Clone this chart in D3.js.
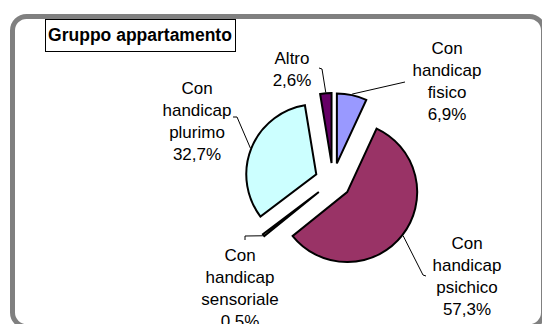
<!DOCTYPE html>
<html>
<head>
<meta charset="utf-8">
<script src="https://cdn.jsdelivr.net/npm/d3@7"></script>
<style>
  html, body { margin: 0; padding: 0; background: #fff; overflow: hidden; }
  svg { display: block; }
  text { font-family: "Liberation Sans", Arial, sans-serif; fill: #000; }
</style>
</head>
<body>
<svg id="chart" width="542" height="324"></svg>
<script>
// ---- data ----
const chartTitle = "Gruppo appartamento";
const categories = [
  "Con handicap fisico",
  "Con handicap psichico",
  "Con handicap sensoriale",
  "Con handicap plurimo",
  "Altro"
];
const shares = [6.9, 57.3, 0.5, 32.7, 2.6];
const sliceColors = ["#9999FF", "#993366", "#FFFFCC", "#CCFFFF", "#660066"];

// ---- layout ----
const W = 542, H = 324;
const cx = 333, cy = 181;       // pie centre
const radius = 70;
const explode = 18;             // distance each slice is pulled out
const fontSize = 17, titleSize = 17.5, lineGap = 22;

// label block: centre x, first baseline, and leader points on the label side
const labelLayout = [
  { x: 447, y: 54,  leader: [[405, 82]] },
  { x: 467, y: 249, leader: [[426, 276], [423, 275]] },
  { x: 240, y: 261, leader: [[245, 240], [245, 236]] },
  { x: 197, y: 94,  leader: [[233, 117], [237, 117]] },
  { x: 292, y: 64,  leader: [[319, 68], [322, 69]] }
];

const itLocale = d3.formatLocale({ decimal: ",", thousands: ".", grouping: [3], currency: ["", " €"] });
const fmtPct = v => itLocale.format(".1f")(v) + "%";

const svg = d3.select("#chart");

// outer rounded frame
svg.append("rect")
  .attr("x", 12.5).attr("y", 16.5)
  .attr("width", 531).attr("height", 310)
  .attr("rx", 14).attr("ry", 14)
  .attr("fill", "#fff")
  .attr("stroke", "#808080")
  .attr("stroke-width", 5);

// title box
svg.append("rect")
  .attr("x", 45.5).attr("y", 19.5)
  .attr("width", 190).attr("height", 32)
  .attr("fill", "#fff")
  .attr("stroke", "#000")
  .attr("stroke-width", 1);
svg.append("text")
  .attr("x", 140).attr("y", 41)
  .attr("text-anchor", "middle")
  .attr("font-size", titleSize)
  .attr("font-weight", "bold")
  .text(chartTitle);

// pie
const pie = d3.pie().sort(null).value(d => d.value);
const arc = d3.arc().innerRadius(0).outerRadius(radius);
const data = categories.map((c, i) => ({ name: c, value: shares[i], color: sliceColors[i] }));
const slices = pie(data).map((s, i) => {
  const mid = (s.startAngle + s.endAngle) / 2;
  return {
    ...s, mid, i,
    dx: explode * Math.sin(mid),
    dy: -explode * Math.cos(mid)
  };
});

const g = svg.append("g").attr("transform", `translate(${cx},${cy})`);

g.selectAll("path.slice")
  .data(slices)
  .join("path")
  .attr("class", "slice")
  .attr("transform", d => `translate(${d.dx},${d.dy})`)
  .attr("d", arc)
  .attr("fill", d => d.data.color)
  .attr("stroke", "#000")
  .attr("stroke-width", 2)
  .attr("stroke-linejoin", "miter");

// leader lines: from label to middle of each slice's outer arc
const leader = d3.line();
slices.forEach(s => {
  const lay = labelLayout[s.i];
  const end = [
    cx + s.dx + (radius + 1) * Math.sin(s.mid),
    cy + s.dy - (radius + 1) * Math.cos(s.mid)
  ];
  svg.append("path")
    .attr("d", leader([...lay.leader, end]))
    .attr("fill", "none")
    .attr("stroke", "#000")
    .attr("stroke-width", 1);
});

// data labels: category words stacked, then percentage
slices.forEach(s => {
  const lay = labelLayout[s.i];
  const lines = s.data.name.split(" ").concat([fmtPct(s.data.value)]);
  const t = svg.append("text")
    .attr("text-anchor", "middle")
    .attr("font-size", fontSize);
  lines.forEach((ln, k) => {
    t.append("tspan")
      .attr("x", lay.x)
      .attr("y", lay.y + k * lineGap)
      .text(ln);
  });
});
</script>
</body>
</html>
